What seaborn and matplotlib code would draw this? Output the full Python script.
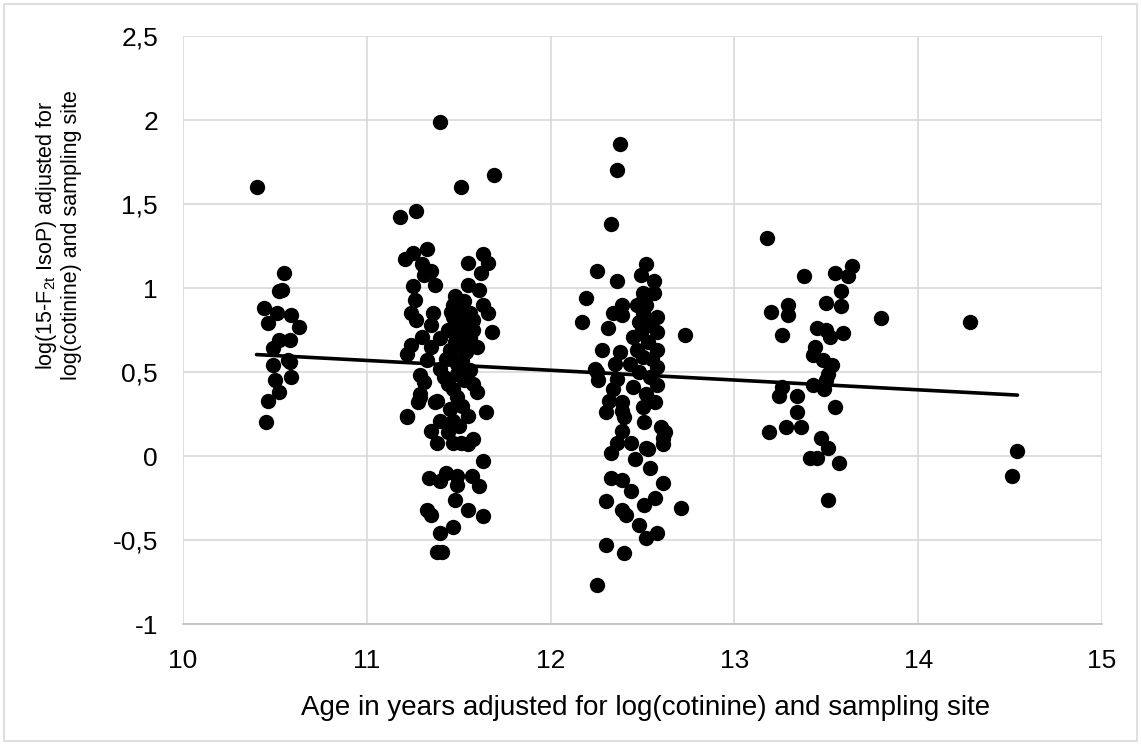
import matplotlib
matplotlib.use("Agg")
import matplotlib.pyplot as plt
import seaborn as sns
import numpy as np
import pandas as pd
from matplotlib.patches import Rectangle

# ---- data ----
age_g1 = [10.40, 10.55, 10.54, 10.52, 10.44, 10.51, 10.59, 10.46, 10.63, 10.52,
          10.58, 10.49, 10.57, 10.49, 10.58, 10.59, 10.50, 10.52, 10.46, 10.45]
iso_g1 = [1.60, 1.09, 0.99, 0.98, 0.88, 0.85, 0.84, 0.79, 0.77, 0.69,
          0.69, 0.64, 0.57, 0.54, 0.56, 0.47, 0.45, 0.38, 0.33, 0.20]

age_g2 = [11.40, 11.69, 11.51, 11.18, 11.27, 11.33, 11.25, 11.21, 11.63, 11.55,
          11.66, 11.35, 11.30, 11.62, 11.25, 11.37, 11.55, 11.61, 11.26, 11.48,
          11.63, 11.24, 11.36, 11.66, 11.51, 11.56, 11.27, 11.35, 11.47, 11.68,
          11.30, 11.24, 11.40, 11.51, 11.58, 11.31, 11.58, 11.60, 11.22, 11.35,
          11.45, 11.33, 11.52, 11.40, 11.29, 11.49, 11.56, 11.31, 11.44, 11.58,
          11.60, 11.29, 11.38, 11.28, 11.49, 11.22, 11.65, 11.55, 11.40, 11.47,
          11.35, 11.44, 11.38, 11.51, 11.58, 11.46, 11.50, 11.53, 11.47, 11.52,
          11.44, 11.49, 11.54, 11.42, 11.47, 11.53, 11.45, 11.50, 11.43, 11.56,
          11.48, 11.22, 11.55, 11.47, 11.29, 11.37, 11.63, 11.34, 11.40, 11.43,
          11.49, 11.49, 11.57, 11.61, 11.48, 11.33, 11.35, 11.55, 11.63, 11.47,
          11.40, 11.38, 11.41, 11.50, 11.46, 11.53]
iso_g2 = [1.99, 1.67, 1.60, 1.42, 1.46, 1.23, 1.21, 1.17, 1.20, 1.15,
          1.15, 1.10, 1.14, 1.09, 1.01, 1.02, 1.02, 0.99, 0.93, 0.95,
          0.90, 0.85, 0.85, 0.85, 0.88, 0.85, 0.81, 0.78, 0.83, 0.74,
          0.71, 0.66, 0.70, 0.73, 0.75, 1.08, 0.81, 0.65, 0.61, 0.65,
          0.63, 0.57, 0.57, 0.52, 0.48, 0.49, 0.51, 0.44, 0.43, 0.43,
          0.38, 0.37, 0.33, 0.32, 0.35, 0.24, 0.26, 0.24, 0.21, 0.21,
          0.15, 0.14, 0.08, 0.08, 0.10, 0.60, 0.66, 0.45, 0.40, 0.30,
          0.75, 0.55, 0.62, 0.47, 0.90, 0.80, 0.28, 0.18, 0.58, 0.70,
          0.68, 0.23, 0.07, 0.08, 0.35, 0.32, -0.03, -0.13, -0.15, -0.10,
          -0.12, -0.17, -0.12, -0.18, -0.26, -0.32, -0.35, -0.32, -0.36, -0.42,
          -0.46, -0.57, -0.57, 0.78, 0.86, 0.92]

age_g3 = [12.38, 12.36, 12.33, 12.25, 12.36, 12.52, 12.49, 12.56, 12.19, 12.39,
          12.34, 12.39, 12.50, 12.56, 12.17, 12.31, 12.58, 12.50, 12.58, 12.49,
          12.28, 12.45, 12.58, 12.47, 12.24, 12.58, 12.73, 12.50, 12.25, 12.26,
          12.36, 12.45, 12.58, 12.34, 12.52, 12.32, 12.39, 12.57, 12.30, 12.50,
          12.40, 12.51, 12.62, 12.60, 12.39, 12.36, 12.44, 12.52, 12.61, 12.33,
          12.46, 12.53, 12.54, 12.33, 12.39, 12.39, 12.61, 12.44, 12.30, 12.61,
          12.57, 12.51, 12.39, 12.41, 12.48, 12.58, 12.52, 12.30, 12.40, 12.25,
          12.71, 12.52, 12.54, 12.48, 12.53, 12.55, 12.48, 12.54, 12.50, 12.47,
          12.43, 12.35, 12.38]
iso_g3 = [1.86, 1.70, 1.38, 1.10, 1.04, 1.14, 1.08, 1.04, 0.94, 0.90,
          0.85, 0.84, 0.97, 0.97, 0.80, 0.76, 0.83, 0.85, 0.74, 0.73,
          0.63, 0.71, 0.63, 0.63, 0.52, 0.53, 0.72, 0.59, 0.50, 0.45,
          0.46, 0.41, 0.42, 0.40, 0.37, 0.33, 0.32, 0.32, 0.26, 0.29,
          0.23, 0.20, 0.14, 0.17, 0.15, 0.08, 0.08, 0.05, 0.07, 0.02,
          -0.02, 0.04, -0.07, -0.13, -0.14, 0.27, 0.11, -0.21, -0.27, -0.16,
          -0.25, -0.29, -0.32, -0.35, -0.41, -0.46, -0.49, -0.53, -0.58, -0.77,
          -0.31, 0.90, 0.78, 0.80, 0.68, 0.58, 0.50, 0.47, 0.93, 0.90,
          0.55, 0.55, 0.62]

age_g4 = [13.18, 13.38, 13.55, 13.64, 13.62, 13.58, 13.50, 13.58, 13.29, 13.20,
          13.29, 13.80, 13.45, 13.50, 13.59, 13.52, 13.26, 13.44, 13.43, 13.48,
          13.53, 13.51, 13.50, 13.43, 13.49, 13.26, 13.24, 13.34, 13.55, 13.34,
          13.19, 13.28, 13.36, 13.47, 13.51, 13.41, 13.45, 13.57, 13.51]
iso_g4 = [1.30, 1.07, 1.09, 1.13, 1.07, 0.98, 0.91, 0.89, 0.90, 0.86,
          0.84, 0.82, 0.76, 0.75, 0.73, 0.71, 0.72, 0.65, 0.60, 0.57,
          0.54, 0.49, 0.45, 0.42, 0.40, 0.41, 0.36, 0.36, 0.29, 0.26,
          0.14, 0.17, 0.17, 0.11, 0.05, -0.01, -0.01, -0.04, -0.26]

age_g5 = [14.28, 14.51, 14.54]
iso_g5 = [0.80, -0.12, 0.03]

x_ticks = [10, 11, 12, 13, 14, 15]
y_ticks = [-1, -0.5, 0, 0.5, 1, 1.5, 2, 2.5]
y_tick_labels = ["-1", "-0,5", "0", "0,5", "1", "1,5", "2", "2,5"]
x_title = "Age in years adjusted for log(cotinine) and sampling site"
y_title = "log(15-F$_{2t}$ IsoP) adjusted for\nlog(cotinine) and sampling site"

df = pd.DataFrame({
    "age": age_g1 + age_g2 + age_g3 + age_g4 + age_g5,
    "iso": iso_g1 + iso_g2 + iso_g3 + iso_g4 + iso_g5,
})

# ---- style ----
sns.set_theme(style="white")
plt.rcParams["font.family"] = ["Liberation Sans", "DejaVu Sans"]
plt.rcParams["mathtext.fontset"] = "custom"
plt.rcParams["mathtext.rm"] = "Liberation Sans"
plt.rcParams["mathtext.it"] = "Liberation Sans"

fig = plt.figure(figsize=(11.41, 7.45), dpi=100)
ax = fig.add_axes([183 / 1141, 1 - 624 / 745, (1102 - 183) / 1141, (624 - 36) / 745])

grid_c = "#d9d9d9"
sns.scatterplot(data=df, x="age", y="iso", ax=ax, color="black", s=122,
                linewidth=0, zorder=3)
sns.regplot(data=df, x="age", y="iso", ax=ax, scatter=False, ci=None,
            line_kws=dict(color="black", lw=2.6, zorder=4))

ax.set_xlim(10, 15)
ax.set_ylim(-1, 2.5)
ax.set_xticks(x_ticks)
ax.set_xticklabels([str(t) for t in x_ticks])
ax.set_yticks(y_ticks)
ax.set_yticklabels(y_tick_labels)
ax.grid(True, color=grid_c, lw=1.2, zorder=0)
ax.set_axisbelow(True)
for s in ax.spines.values():
    s.set_visible(False)
ax.spines["bottom"].set_visible(True)
ax.spines["bottom"].set_color("#bfbfbf")
ax.spines["bottom"].set_linewidth(1.2)

ax.tick_params(axis="both", length=0, labelsize=19, colors="#000000")
ax.tick_params(axis="y", pad=18)
ax.tick_params(axis="x", pad=18)

ax.set_xlabel(x_title, fontsize=20, color="black")
ax.xaxis.set_label_coords(0.503, -0.12)
ax.set_ylabel(y_title, fontsize=15.5, color="black", linespacing=1.1)
ax.yaxis.set_label_coords(-0.110, 0.662)

fig.patches.append(Rectangle((4 / 1141, 4 / 745), 1 - 8 / 1141, 1 - 8 / 745,
                             transform=fig.transFigure, fill=False,
                             edgecolor=grid_c, lw=1.2))

fig.savefig("out.png", dpi=100, facecolor="white")
